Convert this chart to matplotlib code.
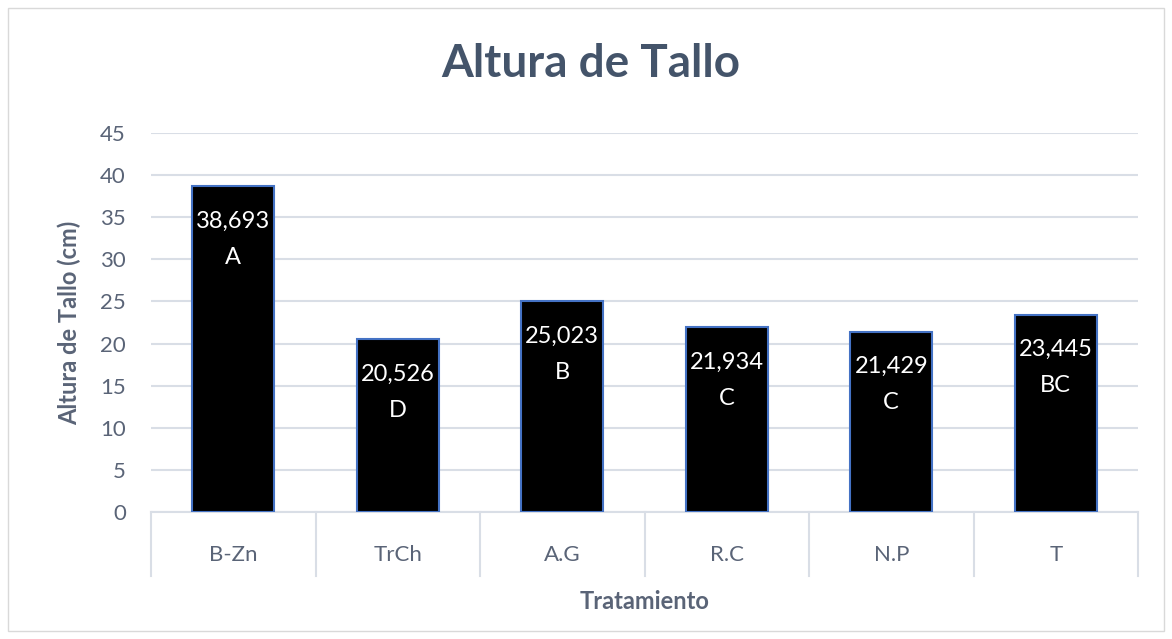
import matplotlib.pyplot as plt
import matplotlib.transforms as mtransforms
from matplotlib.patches import Rectangle

# datos del gráfico
tratamientos = ['B-Zn', 'TrCh', 'A.G', 'R.C', 'N.P', 'T']
altura = [38.693, 20.526, 25.023, 21.934, 21.429, 23.445]
etiquetas_valor = ['38,693', '20,526', '25,023', '21,934', '21,429', '23,445']
letras = ['A', 'D', 'B', 'C', 'C', 'BC']
ticks_y = [0, 5, 10, 15, 20, 25, 30, 35, 40, 45]

plt.rcParams['font.family'] = ['Lato', 'DejaVu Sans']
color_texto = '#5A6477'
color_titulo = '#44546A'
color_grid = '#D9DEE6'

fig = plt.figure(figsize=(11.72, 6.39), dpi=100)
fig.patches.append(Rectangle((8 / 1172, 8 / 639), 1 - 16 / 1172, 1 - 16 / 639,
                             transform=fig.transFigure, fill=False,
                             edgecolor='#D9D9D9', linewidth=1))
ax = fig.add_axes([151 / 1172, 1 - 512 / 639, 987 / 1172, 379 / 639])

x = range(len(tratamientos))
barras = ax.bar(x, altura, width=0.5, color='black', edgecolor='#4472C4', linewidth=1.5, zorder=3)

# etiquetas dentro de las barras
for xi, h, val, letra in zip(x, altura, etiquetas_valor, letras):
    ax.annotate(val, (xi, h), xytext=(0, -35), textcoords='offset pixels',
                ha='center', va='center', color='white', fontsize=17, zorder=4)
    ax.annotate(letra, (xi, h), xytext=(0, -71), textcoords='offset pixels',
                ha='center', va='center', color='white', fontsize=17, zorder=4)

ax.set_xlim(-0.5, len(tratamientos) - 0.5)
ax.set_ylim(0, 45)
ax.set_yticks(ticks_y)
ax.yaxis.grid(True, color=color_grid, linewidth=1.5, zorder=0)
ax.set_axisbelow(True)
for lado in ['top', 'right', 'left']:
    ax.spines[lado].set_visible(False)
ax.spines['bottom'].set_color(color_grid)
ax.spines['bottom'].set_linewidth(1.5)

ax.tick_params(axis='y', length=0, pad=18, labelsize=16, labelcolor=color_texto)
ax.set_xticks(list(x))
ax.set_xticklabels(tratamientos)
ax.tick_params(axis='x', length=0, pad=24, labelsize=16, labelcolor=color_texto)

# líneas separadoras de categorías
trans = mtransforms.blended_transform_factory(ax.transData, ax.transAxes)
for b in [i - 0.5 for i in range(len(tratamientos) + 1)]:
    ax.plot([b, b], [0, -64 / 379], transform=trans, color=color_grid,
            linewidth=1.5, clip_on=False)

ax.set_xlabel('Tratamiento', fontsize=17, fontweight='bold', color=color_texto, labelpad=18)
ax.set_ylabel('Altura de Tallo (cm)', fontsize=17, fontweight='bold', color=color_texto, labelpad=14)
fig.text(591 / 1172, 1 - 64 / 639, 'Altura de Tallo', ha='center', va='center',
         fontsize=33, fontweight='bold', color=color_titulo)

fig.savefig('out.png', dpi=100)
